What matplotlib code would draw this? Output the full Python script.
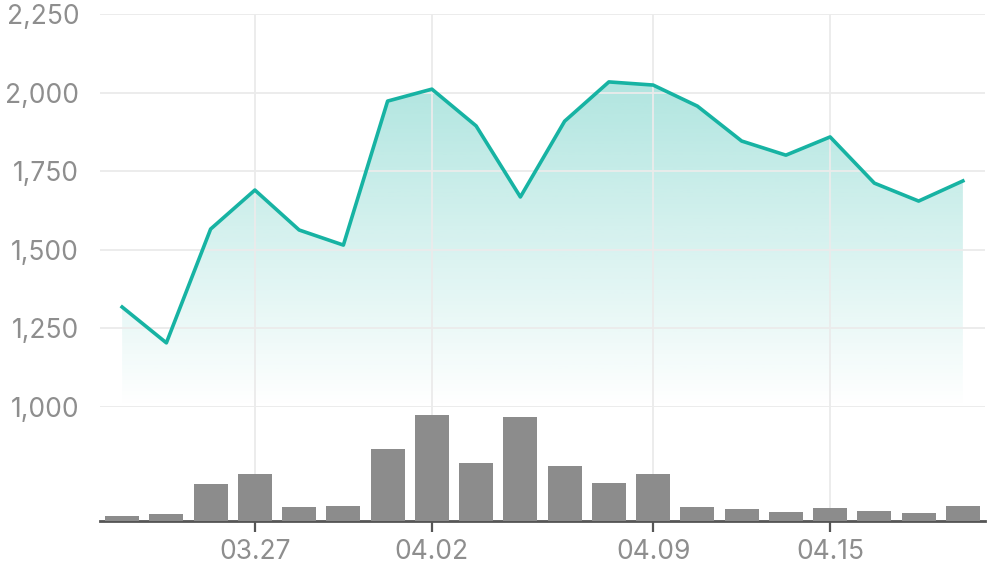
import matplotlib.pyplot as plt
import numpy as np
from matplotlib.colors import to_rgb

# trading days and values
dates = ["03.24", "03.25", "03.26", "03.27", "03.28", "03.31", "04.01", "04.02", "04.03", "04.04",
         "04.07", "04.08", "04.09", "04.10", "04.11", "04.14", "04.15", "04.16", "04.17", "04.18"]
price = [1318, 1204, 1566, 1690, 1563, 1515, 1973, 2011, 1894, 1668,
         1909, 2034, 2024, 1957, 1846, 1801, 1859, 1712, 1655, 1719]
volume = [5, 7, 37, 47, 14, 15, 72, 106, 58, 104,
          55, 38, 47, 14, 12, 9, 13, 10, 8, 15]
shown_dates = ["03.27", "04.02", "04.09", "04.15"]
price_ticks = [1000, 1250, 1500, 1750, 2000, 2250]

LINE = "#17b3a3"
GRID = "#ebebeb"
TEXT = "#8e8e8e"
AXIS = "#555555"

plt.rcParams["font.family"] = ["Inter", "DejaVu Sans"]

W, H = 996, 567
fig = plt.figure(figsize=(W / 100, H / 100), dpi=100)
left, right = 100, 985
ax = fig.add_axes([left / W, (H - 407) / H, (right - left) / W, (407 - 14) / H])
axv = fig.add_axes([left / W, (H - 521) / H, (right - left) / W, (521 - 407) / H], sharex=ax)

x = np.arange(len(dates))
tick_idx = [dates.index(d) for d in shown_dates]

# price line with gradient area underneath
poly = ax.fill_between(x, price, 1000, color="none", lw=0)
grad = np.zeros((256, 1, 4))
grad[:, 0, :3] = to_rgb(LINE)
grad[:, 0, 3] = np.linspace(0.34, 0.0, 256)
img = ax.imshow(grad, extent=[x[0], x[-1], 1000, max(price)], aspect="auto", origin="upper", zorder=1)
img.set_clip_path(poly.get_paths()[0], transform=ax.transData)
ax.plot(x, price, color=LINE, lw=2.6, zorder=4)
ax.set_xlim(-0.5, len(dates) - 0.5)
ax.set_ylim(1000, 2250)

ax.set_yticks(price_ticks)
ax.set_yticklabels([f"{v:,}" for v in price_ticks])
ax.grid(True, color=GRID, lw=1.3)
for ln in ax.get_xgridlines() + ax.get_ygridlines():
    ln.set_zorder(2)
ax.tick_params(axis="y", length=0, pad=15, labelsize=19, labelcolor=TEXT)
ax.tick_params(axis="x", length=0, labelbottom=False)
for s in ax.spines.values():
    s.set_visible(False)

# volume bars
axv.bar(x, volume, width=0.77, color="#8c8c8c", zorder=3)
axv.set_ylim(0, max(volume) * 1.075)
axv.set_yticks([])
axv.set_xticks(tick_idx)
axv.set_xticklabels(shown_dates)
axv.grid(True, axis="x", color=GRID, lw=1.3, zorder=0)
axv.tick_params(axis="x", length=8, width=1.6, color=AXIS, pad=5, labelsize=19, labelcolor=TEXT)
for k in ["top", "left", "right"]:
    axv.spines[k].set_visible(False)
axv.spines["bottom"].set_color(AXIS)
axv.spines["bottom"].set_linewidth(2)
axv.patch.set_alpha(0)

fig.savefig("out.png", dpi=100)
